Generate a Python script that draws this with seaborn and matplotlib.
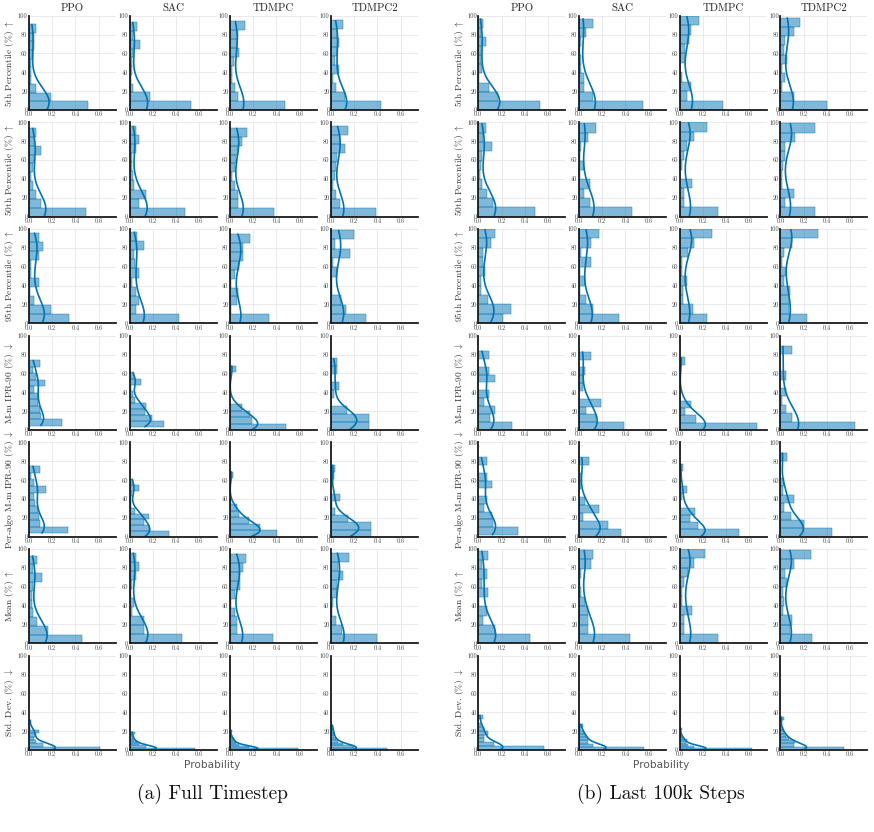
import numpy as np
import pandas as pd
import matplotlib
matplotlib.use("Agg")
import matplotlib.pyplot as plt
import seaborn as sns

# ---------------- data (bin range low, bin range high, bin probabilities bottom->top) ----------------
algos = ["PPO", "SAC", "TDMPC", "TDMPC2"]
metric_labels = [r"5th Percentile (%) $\uparrow$", r"50th Percentile (%) $\uparrow$",
                 r"95th Percentile (%) $\uparrow$", r"M-m IPR-90 (%) $\downarrow$",
                 r"Per-algo M-m IPR-90 (%) $\downarrow$", r"Mean (%) $\uparrow$",
                 r"Std. Dev. (%) $\downarrow$"]
xticks = [0.0, 0.2, 0.4, 0.6]
xticklabels = ["0.0", "0.2", "0.4", "0.6"]
yticks = [0, 20, 40, 60, 80, 100]
group_titles = ["(a) Full Timestep", "(b) Last 100k Steps"]

full_p5 = [
    (0, 91, [0.50, 0.19, 0.06, 0.02, 0.02, 0.02, 0.03, 0.04, 0.04, 0.06]),
    (0, 93, [0.52, 0.17, 0.03, 0.01, 0.02, 0.02, 0.03, 0.085, 0.03, 0.065]),
    (0, 94, [0.47, 0.07, 0.04, 0.02, 0.02, 0.03, 0.08, 0.06, 0.07, 0.13]),
    (0, 95, [0.42, 0.12, 0.04, 0.02, 0.07, 0.03, 0.05, 0.07, 0.05, 0.10]),
]
full_p50 = [
    (0, 94, [0.46, 0.10, 0.06, 0.03, 0.02, 0.03, 0.04, 0.10, 0.04, 0.06]),
    (0, 96, [0.48, 0.08, 0.14, 0.04, 0.03, 0.02, 0.02, 0.06, 0.08, 0.06]),
    (0, 94, [0.36, 0.07, 0.07, 0.04, 0.02, 0.04, 0.05, 0.07, 0.10, 0.14]),
    (0, 96, [0.38, 0.08, 0.04, 0.02, 0.03, 0.04, 0.05, 0.12, 0.08, 0.14]),
]
full_p95 = [
    (0, 96, [0.35, 0.19, 0.04, 0.01, 0.09, 0.02, 0.02, 0.09, 0.12, 0.09]),
    (0, 97, [0.44, 0.06, 0.08, 0.06, 0.02, 0.08, 0.05, 0.04, 0.13, 0.07]),
    (0, 95, [0.34, 0.01, 0.06, 0.07, 0.01, 0.04, 0.08, 0.11, 0.11, 0.17]),
    (0, 99, [0.28, 0.12, 0.08, 0.01, 0.01, 0.05, 0.02, 0.15, 0.03, 0.19]),
]
full_mm = [
    (4.6, 74, [0.28, 0.10, 0.09, 0.08, 0.08, 0.04, 0.14, 0.06, 0.03, 0.09]),
    (3, 61, [0.29, 0.19, 0.13, 0.14, 0.05, 0.03, 0.01, 0.10, 0.04]),
    (0, 68, [0.48, 0.19, 0.17, 0.10, 0.0, 0.0, 0.0, 0.0, 0.0, 0.05]),
    (0, 76, [0.33, 0.33, 0.14, 0.0, 0.03, 0.07, 0.0, 0.05, 0.05]),
]
full_pa = [
    (3.5, 75, [0.32, 0.09, 0.08, 0.07, 0.05, 0.04, 0.14, 0.04, 0.02, 0.09]),
    (0, 61, [0.33, 0.16, 0.12, 0.16, 0.05, 0.01, 0.01, 0.02, 0.08, 0.03]),
    (0, 69, [0.40, 0.26, 0.16, 0.08, 0.06, 0.005, 0.0, 0.0, 0.0, 0.03]),
    (0, 76, [0.31, 0.31, 0.13, 0.03, 0.01, 0.07, 0.0, 0.0, 0.02, 0.03]),
]
full_mean = [
    (0, 93, [0.42, 0.15, 0.06, 0.03, 0.02, 0.02, 0.03, 0.10, 0.03, 0.06]),
    (0, 96, [0.46, 0.13, 0.13, 0.02, 0.04, 0.01, 0.02, 0.06, 0.08, 0.06]),
    (0, 95, [0.36, 0.06, 0.06, 0.04, 0.01, 0.04, 0.08, 0.08, 0.11, 0.13]),
    (0, 96, [0.38, 0.09, 0.04, 0.01, 0.02, 0.05, 0.05, 0.10, 0.06, 0.15]),
]
full_std = [
    (0, 32, [0.61, 0.12, 0.06, 0.04, 0.05, 0.09, 0.01, 0.0, 0.02]),
    (0, 19.4, [0.55, 0.14, 0.08, 0.06, 0.04, 0.03, 0.02, 0.05]),
    (0, 21, [0.58, 0.16, 0.08, 0.05, 0.04, 0.03, 0.02, 0.01, 0.0, 0.02]),
    (0, 26.5, [0.48, 0.20, 0.10, 0.06, 0.04, 0.03, 0.03, 0.02, 0.02, 0.02]),
]

last_p5 = [
    (0, 97, [0.53, 0.17, 0.09, 0.01, 0.03, 0.02, 0.02, 0.07, 0.02, 0.04]),
    (0, 97, [0.55, 0.12, 0.04, 0.04, 0.02, 0.02, 0.01, 0.02, 0.06, 0.12]),
    (0, 100, [0.38, 0.06, 0.10, 0.02, 0.0, 0.05, 0.05, 0.08, 0.10, 0.17]),
    (0, 98, [0.40, 0.12, 0.01, 0.04, 0.01, 0.06, 0.03, 0.04, 0.12, 0.17]),
]
last_p50 = [
    (0, 99, [0.47, 0.12, 0.07, 0.03, 0.01, 0.02, 0.03, 0.11, 0.04, 0.06]),
    (0, 99, [0.46, 0.10, 0.04, 0.10, 0.01, 0.04, 0.01, 0.02, 0.08, 0.15]),
    (0, 100, [0.32, 0.04, 0.04, 0.10, 0.0, 0.02, 0.04, 0.06, 0.12, 0.23]),
    (0, 99, [0.28, 0.04, 0.11, 0.01, 0.01, 0.02, 0.04, 0.04, 0.12, 0.28]),
]
last_p95 = [
    (0, 100, [0.21, 0.28, 0.08, 0.02, 0.02, 0.06, 0.04, 0.04, 0.11, 0.14]),
    (0, 100, [0.34, 0.12, 0.06, 0.01, 0.05, 0.01, 0.10, 0.02, 0.10, 0.17]),
    (0, 100, [0.23, 0.11, 0.03, 0.03, 0.06, 0.02, 0.02, 0.07, 0.12, 0.27]),
    (0, 100, [0.23, 0.07, 0.07, 0.08, 0.03, 0.05, 0.01, 0.03, 0.10, 0.32]),
]
last_mm = [
    (0, 84, [0.29, 0.10, 0.14, 0.05, 0.09, 0.0, 0.14, 0.09, 0.0, 0.09]),
    (0, 83, [0.38, 0.14, 0.06, 0.19, 0.0, 0.03, 0.03, 0.05, 0.0, 0.10]),
    (0, 77, [0.67, 0.14, 0.05, 0.10, 0.0, 0.0, 0.0, 0.0, 0.0, 0.05]),
    (0, 89, [0.66, 0.10, 0.05, 0.01, 0.05, 0.0, 0.05, 0.0, 0.0, 0.10]),
]
last_pa = [
    (1.8, 84, [0.35, 0.13, 0.12, 0.05, 0.08, 0.0, 0.12, 0.08, 0.0, 0.08]),
    (0, 84, [0.34, 0.23, 0.03, 0.16, 0.05, 0.0, 0.02, 0.02, 0.0, 0.08]),
    (0, 77, [0.51, 0.16, 0.09, 0.13, 0.0, 0.02, 0.06, 0.0, 0.0, 0.03]),
    (0, 89, [0.44, 0.20, 0.09, 0.03, 0.12, 0.02, 0.03, 0.0, 0.0, 0.06]),
]
last_mean = [
    (0, 98, [0.44, 0.14, 0.04, 0.07, 0.01, 0.08, 0.03, 0.07, 0.03, 0.08]),
    (0, 99, [0.44, 0.08, 0.08, 0.08, 0.05, 0.02, 0.01, 0.02, 0.10, 0.12]),
    (0, 100, [0.32, 0.04, 0.04, 0.10, 0.02, 0.02, 0.04, 0.07, 0.12, 0.21]),
    (0, 99, [0.27, 0.08, 0.10, 0.02, 0.03, 0.02, 0.06, 0.04, 0.12, 0.26]),
]
last_std = [
    (0, 37, [0.55, 0.13, 0.05, 0.05, 0.08, 0.05, 0.02, 0.0, 0.04]),
    (0, 27.5, [0.55, 0.12, 0.08, 0.08, 0.06, 0.04, 0.02, 0.03]),
    (0, 23, [0.62, 0.12, 0.07, 0.05, 0.06, 0.03, 0.02, 0.01, 0.0, 0.02]),
    (0, 35, [0.55, 0.12, 0.13, 0.07, 0.05, 0.03, 0.02, 0.0, 0.0, 0.03]),
]

groups = [
    [full_p5, full_p50, full_p95, full_mm, full_pa, full_mean, full_std],
    [last_p5, last_p50, last_p95, last_mm, last_pa, last_mean, last_std],
]

# ---------------- style ----------------
sns.set_style("white")
plt.rcParams["font.family"] = ["cmr10", "DejaVu Serif"]
plt.rcParams["mathtext.fontset"] = "cm"
plt.rcParams["axes.formatter.use_mathtext"] = True

W, H = 874, 832
fig = plt.figure(figsize=(W / 100, H / 100), dpi=100)
fig.patch.set_facecolor("white")

BAR = "#0173b2"
group_lefts = [[29, 129.5, 230, 331], [478.3, 579, 679.7, 780.4]]
ax_w, ax_h = 87, 94.3
row_top0, row_pitch = 15.7, 106.67


def px_axes(left, top, w, h):
    return fig.add_axes([left / W, 1 - (top + h) / H, w / W, h / H])


def draw_panel(ax, lo, hi, probs):
    n = len(probs)
    step = (hi - lo) / n
    centers = [lo + step * (i + 0.5) for i in range(n)]
    df = pd.DataFrame({"value": centers, "w": probs})
    sns.histplot(data=df, y="value", weights="w", bins=n, binrange=(lo, hi),
                 stat="probability",
                 kde=True, kde_kws={"bw_adjust": 0.6, "cut": 0.4},
                 color=BAR, alpha=0.5, edgecolor=BAR, linewidth=0.3,
                 line_kws={"linewidth": 1.2, "color": BAR}, ax=ax)
    ax.set_xlim(0, 0.75)
    ax.set_ylim(0, 100)
    ax.set_xticks(xticks)
    ax.set_xticklabels(xticklabels)
    ax.set_yticks(yticks)
    ax.set_yticklabels([str(t) for t in yticks])
    ax.tick_params(labelsize=4.6, length=2, width=0.6, pad=1, colors="#444444",
                   direction="in")
    ax.grid(True, color="#e6e6e6", linewidth=0.6)
    ax.set_axisbelow(True)
    for s in ["top", "right"]:
        ax.spines[s].set_visible(False)
    for s in ["left", "bottom"]:
        ax.spines[s].set_linewidth(1.3)
        ax.spines[s].set_color("#1a1a1a")
    ax.set_xlabel("")
    ax.set_ylabel("")


for g, rows in enumerate(groups):
    lefts = group_lefts[g]
    for r, row in enumerate(rows):
        top = row_top0 + r * row_pitch
        for c, (lo, hi, probs) in enumerate(row):
            ax = px_axes(lefts[c], top, ax_w, ax_h)
            draw_panel(ax, lo, hi, probs)
            if r == 0:
                fig.text((lefts[c] + ax_w / 2) / W, 1 - 8 / H, algos[c],
                         ha="center", va="center", fontsize=7.8, color="#222222")
        fig.text((lefts[0] - 19) / W, 1 - (top + ax_h / 2) / H, metric_labels[r],
                 rotation=90, ha="center", va="center", fontsize=6.8, color="#333333")

for g, cx in enumerate([212, 661]):
    fig.text(cx / W, 1 - 765 / H, "Probability", ha="center", va="center",
             fontsize=7.6, color="#555555", family="DejaVu Sans")
    fig.text(cx / W, 1 - 794 / H, group_titles[g], ha="center", va="center",
             fontsize=14, color="#111111")

fig.savefig("out.png", dpi=100, facecolor="white")
